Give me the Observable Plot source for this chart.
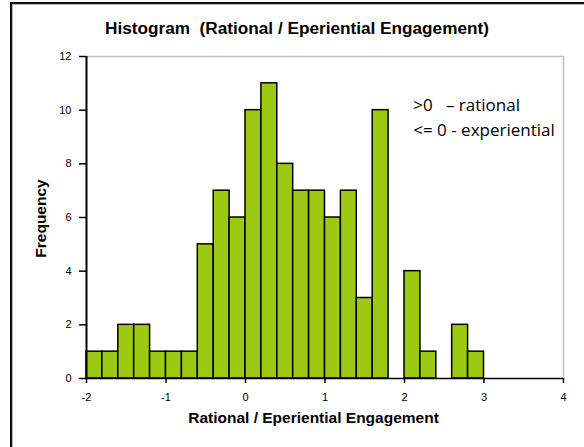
<!DOCTYPE html>
<html>
<head>
<meta charset="utf-8">
<script src="https://cdn.jsdelivr.net/npm/d3@7"></script>
<script src="https://cdn.jsdelivr.net/npm/@observablehq/plot@0.6"></script>
<style>
  html, body { margin: 0; padding: 0; background: #fff; overflow: hidden; }
  #chart { position: relative; width: 584px; height: 447px; overflow: hidden; }
  #frame {
    position: absolute; left: 10px; top: 2px; width: 600px; height: 470px;
    border-left: 2px solid #111; border-top: 2px solid #111;
    box-shadow: inset 1px 1px 0 #bbb;
  }
  #title {
    position: relative; height: 45px;
    font: bold 17.2px "Liberation Sans", Arial, sans-serif;
    line-height: 57px;
    text-align: center; padding-left: 10px; box-sizing: border-box; white-space: pre;
  }
  #plot { position: relative; height: 402px; }
  #plot svg { display: block; }
</style>
</head>
<body>
<div id="chart">
  <div id="frame"></div>
  <div id="title">Histogram  (Rational / Eperiential Engagement)</div>
  <div id="plot"></div>
</div>
<script>
// Lower edge of each 0.2-wide bin and the number of cases in it
const binStarts = [-2.0, -1.8, -1.6, -1.4, -1.2, -1.0, -0.8, -0.6, -0.4, -0.2,
                   0.0, 0.2, 0.4, 0.6, 0.8, 1.0, 1.2, 1.4, 1.6, 1.8,
                   2.0, 2.2, 2.4, 2.6, 2.8];
const counts    = [1, 1, 2, 2, 1, 1, 1, 5, 7, 6,
                   10, 11, 8, 7, 7, 6, 7, 3, 10, 0,
                   4, 1, 0, 2, 1];
const binWidth = 0.2;

const xTicks = [-2, -1, 0, 1, 2, 3, 4];
const yTicks = [0, 2, 4, 6, 8, 10, 12];
const notes = [">0   \u2013 rational", "<= 0 - experiential"];

const bins = binStarts.map((x, i) => ({x1: x, x2: +(x + binWidth).toFixed(2), count: counts[i]}));

const tickFont = "'Liberation Sans', Arial, sans-serif";

const chart = Plot.plot({
  width: 584,
  height: 402,
  marginLeft: 86,
  marginRight: 21,
  marginTop: 11,
  marginBottom: 69,
  style: {fontFamily: "'Liberation Sans', Arial, sans-serif", fontSize: "11px", color: "#000", background: "transparent"},
  x: {domain: [-2, 4]},
  y: {domain: [0, 12]},
  marks: [
    // plot-area border (top and right)
    Plot.ruleY([12], {stroke: "#c0c0c0", strokeWidth: 1.5}),
    Plot.ruleX([4], {stroke: "#c0c0c0", strokeWidth: 1.5}),
    Plot.rectY(bins, {x1: "x1", x2: "x2", y: "count", fill: "#9dc912", stroke: "#000", strokeWidth: 1.5}),
    Plot.ruleY([0], {stroke: "#000", strokeWidth: 1.5}),
    Plot.ruleX([-2], {stroke: "#000", strokeWidth: 2}),
    // axes: tick marks from Plot, labels drawn as text at the same tick values
    Plot.axisX({ticks: xTicks, tickSize: 5, text: null, stroke: "#000", strokeWidth: 1.5, label: null}),
    Plot.axisY({ticks: yTicks, tickSize: 7, text: null, stroke: "#000", strokeWidth: 1.5, label: null}),
    Plot.text(xTicks, {x: d => d, frameAnchor: "bottom", lineAnchor: "middle", dy: 19,
      text: d => String(d), fontFamily: tickFont, fontSize: 11, fill: "#000"}),
    Plot.text(yTicks, {y: d => d, frameAnchor: "left", textAnchor: "end", lineAnchor: "middle", dx: -15,
      text: d => String(d), fontFamily: tickFont, fontSize: 11, fill: "#000"}),
    Plot.text(["Rational / Eperiential Engagement"], {
      frameAnchor: "bottom", lineAnchor: "middle", dy: 40, dx: -11.5,
      fontWeight: "bold", fontSize: 15.5, fill: "#000"
    }),
    Plot.text(["Frequency"], {
      frameAnchor: "left", textAnchor: "middle", lineAnchor: "middle", dx: -45, dy: 1, rotate: -90,
      fontWeight: "bold", fontSize: 15.5, fill: "#000"
    }),
    Plot.text(notes, {
      x: 2.11, y: (d, i) => 10.17 - i * 0.93, textAnchor: "start", lineAnchor: "middle",
      fontFamily: "'Open Sans', sans-serif", fontSize: 17, fill: "#000"
    })
  ]
});
document.getElementById("plot").appendChild(chart);
</script>
</body>
</html>
